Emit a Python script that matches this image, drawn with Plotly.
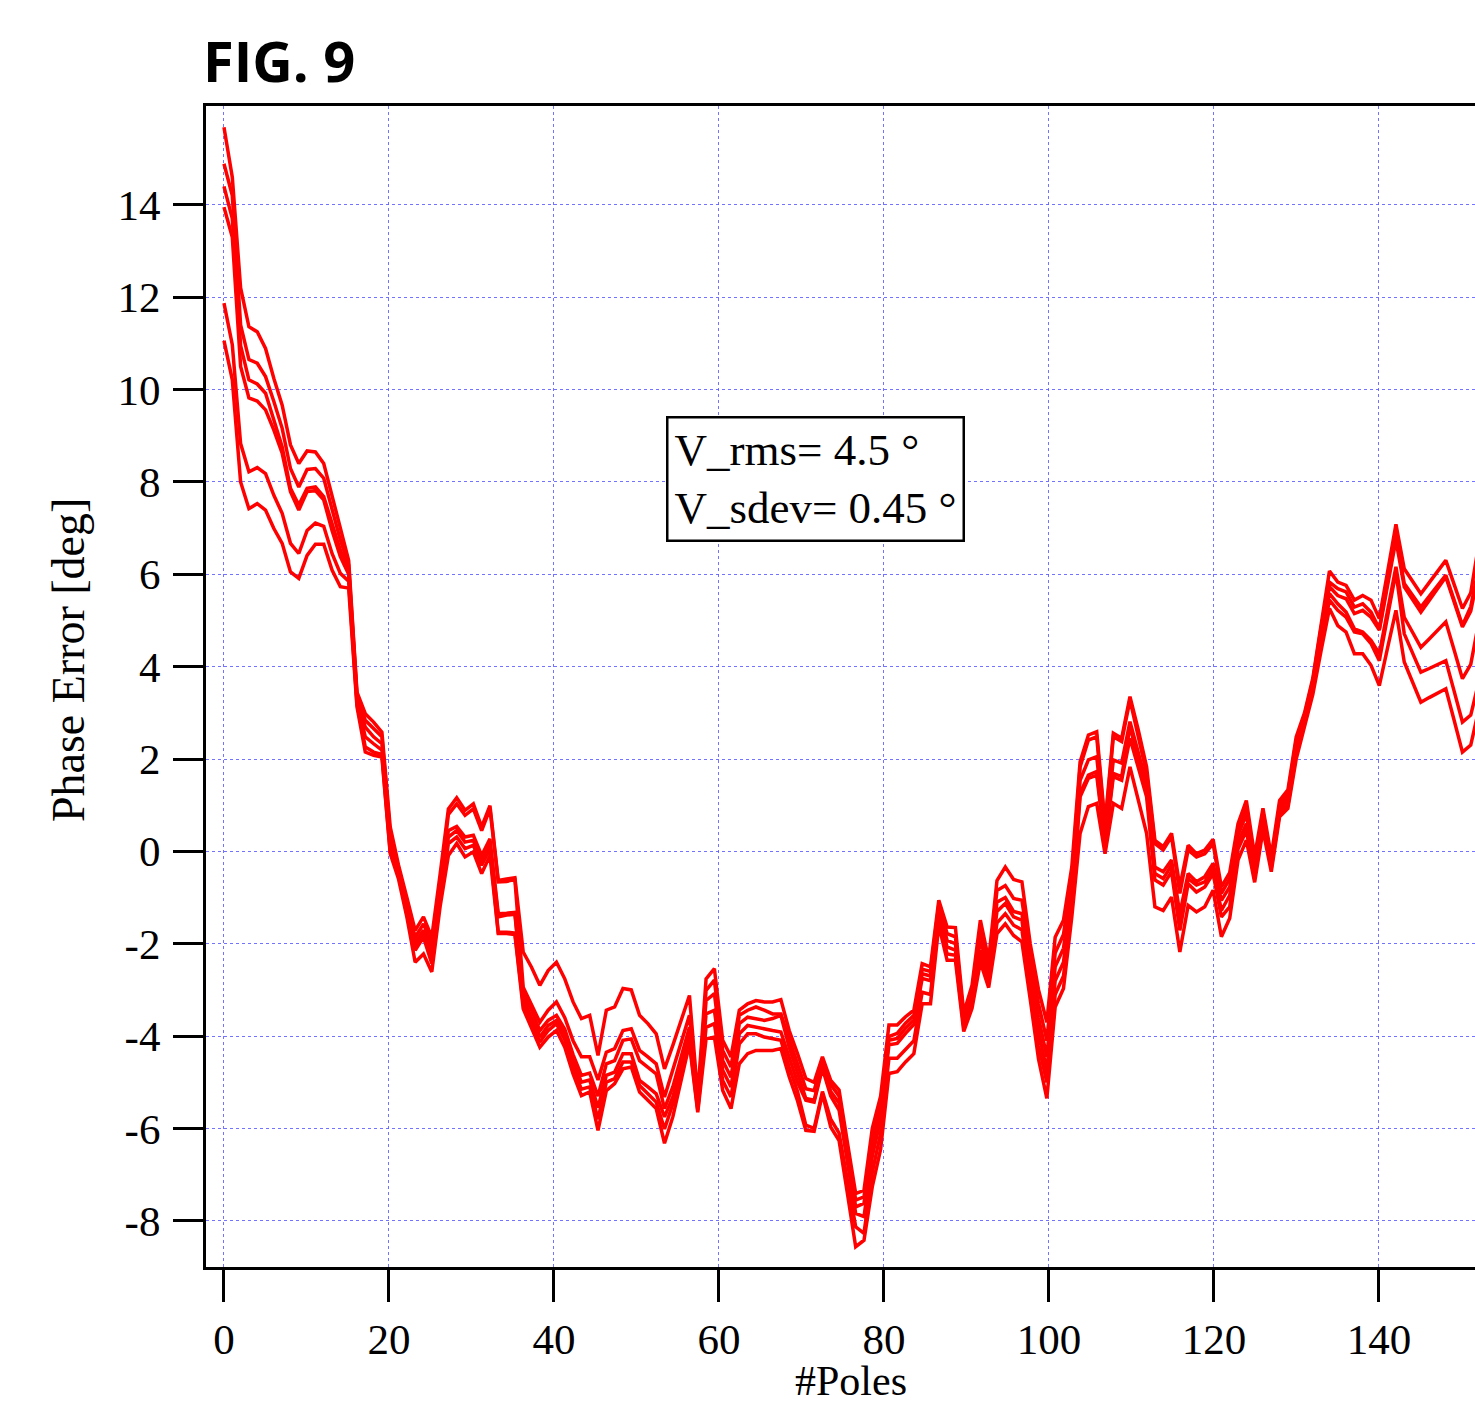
import plotly.graph_objects as go

# ---- data ----
POLE_STEP = 1.0075  # spacing of the samples along the #Poles axis

s1 = [15.68, 14.6, 12.2, 11.36, 11.25, 10.89, 10.24, 9.66, 8.80, 8.40,
      8.67, 8.65, 8.40, 7.68, 6.95, 6.3, 3.45, 2.98, 2.80, 2.58,
      0.53, -0.3, -1.0, -1.71, -1.42, -1.86, -0.5, 0.92, 1.16, 0.89,
      1.03, 0.53, 0.99, -0.63, -0.60, -0.57, -2.18, -2.51, -2.90, -2.58,
      -2.40, -2.76, -3.26, -3.62, -3.55, -4.42, -3.44, -3.37, -2.97, -3.00,
      -3.55, -3.73, -3.95, -4.71, -4.20, -3.66, -3.12, -5.3, -2.76, -2.54,
      -4.09, -4.45, -3.44, -3.30, -3.23, -3.26, -3.26, -3.21, -3.88, -4.38,
      -4.92, -5.0, -4.45, -4.96, -5.17, -6.3, -7.41, -7.34, -6.0, -5.3,
      -3.76, -3.76, -3.58, -3.44, -2.43, -2.50, -1.06, -1.64, -1.65, -3.5,
      -2.9, -1.49, -2.35, -0.63, -0.34, -0.61, -0.66, -2.0, -3.0, -3.7,
      -1.86, -1.49, -0.34, 1.94, 2.52, 2.59, 0.60, 2.56, 2.45, 3.35,
      2.63, 1.83, 0.24, 0.10, 0.39, -0.77, 0.13, -0.05, 0.03, 0.26,
      -0.77, -0.46, 0.6, 1.1, -0.1, 0.93, -0.1, 1.1, 1.33, 2.48,
      3.0, 3.75, 4.95, 6.07, 5.83, 5.76, 5.44, 5.54, 5.44, 5.04,
      6.06, 7.08, 6.12, 5.85, 5.58, 5.82, 6.06, 6.30, 5.78, 5.26,
      5.6, 6.7]

s2 = [14.89, 14.2, 11.4, 10.65, 10.57, 10.28, 9.74, 9.16, 8.29, 7.89,
      8.27, 8.29, 8.08, 7.39, 6.74, 6.2, 3.4, 2.84, 2.66, 2.48,
      0.38, -0.35, -1.1, -1.86, -1.57, -2.0, -0.7, 0.80, 1.03, 0.78,
      0.92, 0.45, 0.92, -0.66, -0.65, -0.61, -2.94, -3.30, -3.70, -3.44,
      -3.26, -3.6, -4.1, -4.45, -4.45, -4.95, -4.35, -4.27, -3.88, -3.84,
      -4.31, -4.45, -4.60, -5.32, -4.74, -4.17, -3.55, -5.4, -3.01, -2.79,
      -4.31, -4.67, -3.55, -3.44, -3.37, -3.44, -3.52, -3.52, -4.09, -4.6,
      -5.14, -5.18, -4.55, -5.05, -5.3, -6.4, -7.55, -7.48, -6.2, -5.5,
      -4.01, -3.94, -3.72, -3.55, -2.55, -2.6, -1.15, -1.78, -1.85, -3.6,
      -3.0, -1.71, -2.45, -0.85, -0.74, -1.02, -1.06, -2.3, -3.3, -4.1,
      -2.2, -1.8, -0.6, 1.83, 2.41, 2.48, 0.5, 2.48, 2.38, 3.28,
      2.48, 1.69, 0.17, 0.03, 0.32, -0.91, 0.03, -0.12, -0.05, 0.17,
      -0.91, -0.59, 0.5, 0.95, -0.25, 0.85, -0.2, 1.0, 1.25, 2.4,
      2.95, 3.7, 4.85, 5.83, 5.69, 5.62, 5.29, 5.36, 5.18, 4.82,
      5.83, 6.85, 5.80, 5.55, 5.29, 5.52, 5.75, 5.98, 5.44, 4.89,
      5.3, 6.2]

s3 = [14.40, 13.7, 10.95, 10.21, 10.12, 9.92, 9.34, 8.76, 7.86, 7.50,
      7.86, 7.89, 7.68, 7.10, 6.52, 6.1, 3.33, 2.69, 2.48, 2.33,
      0.24, -0.4, -1.2, -1.96, -1.71, -2.14, -0.8, 0.45, 0.54, 0.31,
      0.35, -0.09, 0.27, -1.35, -1.34, -1.32, -3.08, -3.44, -3.88, -3.66,
      -3.55, -3.85, -4.4, -4.85, -4.8, -5.3, -4.6, -4.53, -4.09, -4.06,
      -4.53, -4.67, -4.82, -5.57, -5.10, -4.45, -3.81, -5.48, -3.23, -3.08,
      -4.53, -4.89, -3.73, -3.59, -3.62, -3.66, -3.62, -3.55, -4.24, -4.8,
      -5.35, -5.39, -4.65, -5.2, -5.45, -6.55, -7.70, -7.62, -6.4, -5.65,
      -4.09, -4.05, -3.83, -3.65, -2.65, -2.7, -1.25, -1.93, -2.0, -3.65,
      -3.1, -1.93, -2.55, -1.1, -1.0, -1.3, -1.35, -2.6, -3.6, -4.45,
      -2.5, -2.1, -0.85, 1.54, 1.98, 2.05, 0.35, 1.98, 1.91, 2.81,
      2.12, 1.47, -0.34, -0.44, -0.19, -1.35, -0.48, -0.66, -0.55, -0.26,
      -1.06, -0.77, 0.35, 0.8, -0.35, 0.75, -0.25, 0.95, 1.18, 2.3,
      2.9, 3.65, 4.75, 5.73, 5.54, 5.47, 5.15, 5.22, 5.07, 4.79,
      5.77, 6.74, 5.73, 5.45, 5.18, 5.43, 5.69, 5.94, 5.40, 4.86,
      5.2, 6.1]

s4 = [13.95, 13.3, 10.5, 9.82, 9.75, 9.56, 9.12, 8.62, 7.79, 7.39,
      7.79, 7.81, 7.61, 6.95, 6.38, 6.0, 3.27, 2.48, 2.33, 2.19,
      0.09, -0.45, -1.3, -2.04, -1.78, -2.29, -0.9, 0.31, 0.45, 0.20,
      0.24, -0.20, 0.17, -1.42, -1.38, -1.36, -3.19, -3.59, -4.02, -3.77,
      -3.66, -3.95, -4.55, -5.0, -4.95, -5.55, -4.85, -4.78, -4.38, -4.38,
      -4.96, -5.10, -5.25, -5.75, -5.32, -4.67, -3.95, -5.55, -3.52, -3.44,
      -4.74, -5.10, -3.95, -3.77, -3.81, -3.84, -3.88, -3.91, -4.45, -5.0,
      -5.39, -5.43, -4.7, -5.3, -5.6, -6.7, -7.84, -7.91, -6.6, -5.8,
      -4.19, -4.16, -3.94, -3.75, -2.75, -2.8, -1.35, -2.07, -2.14, -3.7,
      -3.2, -2.14, -2.65, -1.3, -1.13, -1.42, -1.49, -2.8, -3.9, -4.75,
      -2.8, -2.4, -1.0, 1.26, 1.65, 1.73, 0.25, 1.69, 1.62, 2.70,
      1.98, 1.33, -0.48, -0.59, -0.30, -1.49, -0.59, -0.73, -0.66, -0.37,
      -1.28, -0.95, 0.2, 0.6, -0.45, 0.65, -0.3, 0.88, 1.1, 2.2,
      2.85, 3.6, 4.65, 5.58, 5.36, 5.18, 4.82, 4.75, 4.57, 4.28,
      5.22, 6.16, 5.07, 4.75, 4.42, 4.6, 4.79, 4.97, 4.36, 3.74,
      4.05, 5.0]

s5 = [11.87, 10.97, 8.83, 8.22, 8.31, 8.18, 7.71, 7.32, 6.67, 6.45,
      6.95, 7.11, 7.04, 6.45, 6.02, 5.85, 3.2, 2.26, 2.15, 2.10,
      -0.01, -0.5, -1.36, -2.14, -1.86, -2.43, -1.0, 0.17, 0.31, 0.06,
      0.13, -0.30, 0.06, -1.75, -1.75, -1.77, -3.30, -3.70, -4.13, -3.88,
      -3.73, -4.08, -4.7, -5.15, -5.1, -5.8, -5.0, -4.92, -4.56, -4.56,
      -5.07, -5.25, -5.43, -6.01, -5.47, -4.82, -4.09, -5.6, -3.81, -3.73,
      -4.96, -5.32, -4.17, -3.95, -3.95, -4.02, -4.06, -4.09, -4.67, -5.2,
      -5.93, -6.0, -5.2, -5.8, -6.1, -7.1, -8.13, -8.27, -6.95, -6.1,
      -4.48, -4.48, -4.30, -4.10, -3.05, -3.1, -1.45, -2.22, -2.25, -3.8,
      -3.3, -2.29, -2.8, -1.55, -1.35, -1.6, -1.7, -3.0, -4.2, -5.0,
      -3.1, -2.7, -1.2, 1.18, 1.58, 1.65, 0.15, 1.62, 1.54, 2.45,
      1.80, 1.18, -0.62, -0.73, -0.44, -1.71, -0.70, -0.88, -0.77, -0.48,
      -1.42, -1.2, 0.05, 0.45, -0.55, 0.55, -0.36, 0.82, 1.0, 2.1,
      2.8, 3.5, 4.5, 5.44, 5.22, 5.07, 4.75, 4.71, 4.50, 4.13,
      5.09, 6.05, 4.71, 4.3, 3.88, 3.96, 4.05, 4.13, 3.47, 2.80,
      2.95, 3.7]

s6 = [11.06, 10.21, 8.0, 7.42, 7.53, 7.39, 6.99, 6.67, 6.05, 5.91,
      6.41, 6.65, 6.65, 6.09, 5.73, 5.7, 3.13, 2.15, 2.08, 2.04,
      -0.05, -0.6, -1.42, -2.40, -2.22, -2.61, -1.2, -0.09, 0.17, -0.12,
      -0.01, -0.48, -0.09, -1.78, -1.78, -1.80, -3.41, -3.81, -4.24, -4.02,
      -3.88, -4.24, -4.82, -5.29, -5.21, -6.04, -5.18, -5.03, -4.71, -4.67,
      -5.21, -5.39, -5.57, -6.32, -5.75, -4.96, -4.17, -5.65, -4.06, -4.02,
      -5.18, -5.57, -4.60, -4.38, -4.31, -4.31, -4.31, -4.27, -4.88, -5.4,
      -6.04, -6.06, -5.25, -5.97, -6.26, -7.4, -8.56, -8.42, -7.26, -6.45,
      -4.81, -4.77, -4.56, -4.38, -3.30, -3.3, -1.6, -2.36, -2.36, -3.9,
      -3.4, -2.4, -2.95, -1.78, -1.57, -1.82, -1.96, -3.2, -4.5, -5.35,
      -3.37, -2.97, -1.42, 0.39, 0.97, 1.04, -0.05, 1.04, 0.93, 1.83,
      1.11, 0.39, -1.20, -1.28, -0.99, -2.18, -1.17, -1.31, -1.20, -0.84,
      -1.85, -1.45, -0.19, 0.24, -0.67, 0.46, -0.44, 0.75, 0.93, 2.0,
      2.7, 3.4, 4.35, 5.26, 4.89, 4.75, 4.28, 4.28, 4.03, 3.59,
      4.41, 5.22, 4.10, 3.67, 3.23, 3.33, 3.43, 3.52, 2.84, 2.15,
      2.3, 3.1]

series = [s1, s2, s3, s4, s5, s6]
n_pts = len(s1)
for s in series:
    assert len(s) == n_pts, len(s)
poles = [round(k * POLE_STEP, 4) for k in range(n_pts)]

x_ticks = [0, 20, 40, 60, 80, 100, 120, 140]
x_tick_labels = ["0", "20", "40", "60", "80", "100", "120", "140"]
y_ticks = [-8, -6, -4, -2, 0, 2, 4, 6, 8, 10, 12, 14]
y_tick_labels = ["-8", "-6", "-4", "-2", "0", "2", "4", "6", "8", "10", "12", "14"]

title_text = "FIG. 9"
box_text = "V_rms= 4.5 °<br>V_sdev= 0.45 °"
x_title = "#Poles"
y_title = "Phase Error [deg]"

SERIF = "Liberation Serif, Times New Roman, serif"
GRID = "rgba(90,90,255,0.85)"

fig = go.Figure()
for s in series:
    fig.add_trace(go.Scatter(x=poles, y=s, mode="lines",
                             line=dict(color="#ff0000", width=3.5),
                             hoverinfo="skip"))

axis_common = dict(
    showgrid=True, gridcolor=GRID, gridwidth=1, griddash="dot",
    showline=True, linecolor="black", linewidth=3,
    ticks="outside", tickcolor="black", tickwidth=3,
    tickfont=dict(family=SERIF, size=43, color="black"),
    zeroline=False,
)

fig.update_xaxes(**axis_common, range=[-2.18, 151.64], tickvals=x_ticks,
                 ticktext=x_tick_labels, ticklen=32, mirror=True,
                 ticklabelstandoff=0)
fig.update_yaxes(**axis_common, range=[-9.0, 16.14], tickvals=y_ticks,
                 ticktext=y_tick_labels, ticklen=30, mirror=False,
                 ticklabelstandoff=4)

fig.update_layout(
    width=1475, height=1410,
    margin=dict(l=206, r=0, t=106, b=143, autoexpand=False),
    paper_bgcolor="white", plot_bgcolor="white",
    showlegend=False,
    annotations=[
        dict(text="<b>" + title_text + "</b>", xref="paper", yref="paper",
             x=-0.004, y=1.0395, xanchor="left", yanchor="middle",
             showarrow=False,
             font=dict(family="Open Sans, Noto Sans, sans-serif", size=56, color="black")),
        dict(text=box_text, xref="x", yref="y", x=71.7, y=8.07,
             xanchor="center", yanchor="middle", align="left",
             showarrow=False, bordercolor="black", borderwidth=2.5,
             borderpad=6, bgcolor="white",
             font=dict(family=SERIF, size=45, color="black")),
        dict(text=x_title, xref="x", yref="paper", x=76, y=-0.0765,
             xanchor="center", yanchor="top", showarrow=False,
             font=dict(family=SERIF, size=42, color="black")),
        dict(text=y_title, xref="paper", yref="paper", x=-0.1087, y=0.5228,
             xanchor="center", yanchor="middle", textangle=-90,
             showarrow=False,
             font=dict(family=SERIF, size=46, color="black")),
    ],
)

fig.write_html("out.html")
